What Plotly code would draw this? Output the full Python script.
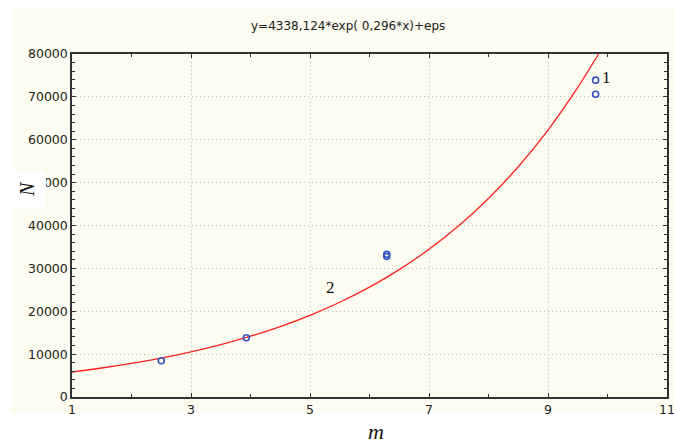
import plotly.graph_objects as go

# observed data points (m, N)
m_obs = [2.5, 3.93, 6.29, 6.29, 9.8, 9.8]
n_obs = [8450, 13830, 32800, 33300, 73900, 70600]

# fitted curve (y=4338,124*exp(0,296*x))
m_fit = [1, 1.5, 2, 2.5, 3, 3.5, 4, 4.5, 5, 5.5, 6, 6.5, 7, 7.5, 8, 8.5, 9, 9.5, 9.85]
n_fit = [5833, 6763, 7841, 9092, 10543, 12225, 14175, 16436, 19057, 22097, 25622,
         29709, 34448, 39942, 46314, 53702, 62270, 72200, 80000]

x_ticks = [1, 3, 5, 7, 9, 11]
y_ticks = [0, 10000, 20000, 30000, 40000, 50000, 60000, 70000, 80000]
title_text = "y=4338,124*exp( 0,296*x)+eps"

W, H = 674, 445
L, R, T, B = 72, 667, 54, 397
pw, ph = R - L, B - T

def px(x):
    return (x - L) / pw

def py(y):
    return (B - y) / ph

fig = go.Figure()
fig.add_trace(go.Scatter(x=m_fit, y=n_fit, mode="lines", line=dict(color="#ff2020", width=1.3, shape="spline"),
                         showlegend=False, cliponaxis=True))
fig.add_trace(go.Scatter(x=m_obs, y=n_obs, mode="markers",
                         marker=dict(symbol="circle-open", size=6, color="#3050c0", line=dict(width=1.6)),
                         showlegend=False))

axis_common = dict(
    showline=True, linecolor="#333333", linewidth=1.5, mirror="ticks",
    ticks="inside", ticklen=4, tickcolor="#333333", tickwidth=1.2,
    showgrid=True, gridcolor="#bdbdbd", griddash="1px,3px", gridwidth=1,
    zeroline=False, automargin=False, ticklabeloverflow="allow",
    tickfont=dict(family="DejaVu Sans, Verdana", size=12.5, color="#222222"),
)

fig.update_xaxes(range=[1, 11], tickvals=x_ticks, ticktext=[str(v) for v in x_ticks],
                 minor=dict(dtick=1, tick0=1, ticks="inside", ticklen=3, tickcolor="#333333", showgrid=False),
                 **axis_common)
fig.update_yaxes(range=[0, 80000], tickvals=y_ticks, ticktext=[str(v) for v in y_ticks],
                 minor=dict(dtick=2000, tick0=0, ticks="inside", ticklen=3, tickcolor="#333333", showgrid=False),
                 **axis_common)

shapes = [
    dict(type="rect", xref="paper", yref="paper", x0=px(11), x1=px(674), y0=py(413), y1=py(8),
         fillcolor="#fcfcf0", line=dict(width=0), layer="below"),
    dict(type="rect", xref="paper", yref="paper", x0=px(0), x1=px(46), y0=py(207), y1=py(170),
         fillcolor="#ffffff", line=dict(width=0), layer="above"),
]

def ann(text, x, y, font, **kw):
    return dict(text=text, xref="paper", yref="paper", x=px(x), y=py(y), showarrow=False,
                xanchor="center", yanchor="middle", font=font, **kw)

serif = "Liberation Serif, Times New Roman"
annotations = [
    ann(title_text, 348, 26, dict(family="DejaVu Sans, Verdana", size=12, color="#222222")),
    ann("<i>N</i>", 27, 189, dict(family=serif, size=20, color="#111111"), textangle=-90),
    ann("<i>m</i>", 376, 432, dict(family=serif, size=22, color="#111111")),
    ann("1", 606, 77, dict(family=serif, size=17, color="#111111")),
    ann("2", 330, 287, dict(family=serif, size=17, color="#111111")),
]

fig.update_layout(
    width=W, height=H,
    margin=dict(l=L, r=W - R, t=T, b=H - B, pad=0),
    paper_bgcolor="#ffffff", plot_bgcolor="#ffffff",
    shapes=shapes, annotations=annotations,
    showlegend=False,
)

fig.write_html("out.html", config={"displayModeBar": False},
               post_script="document.body.style.margin='0';document.body.style.overflow='hidden';")
